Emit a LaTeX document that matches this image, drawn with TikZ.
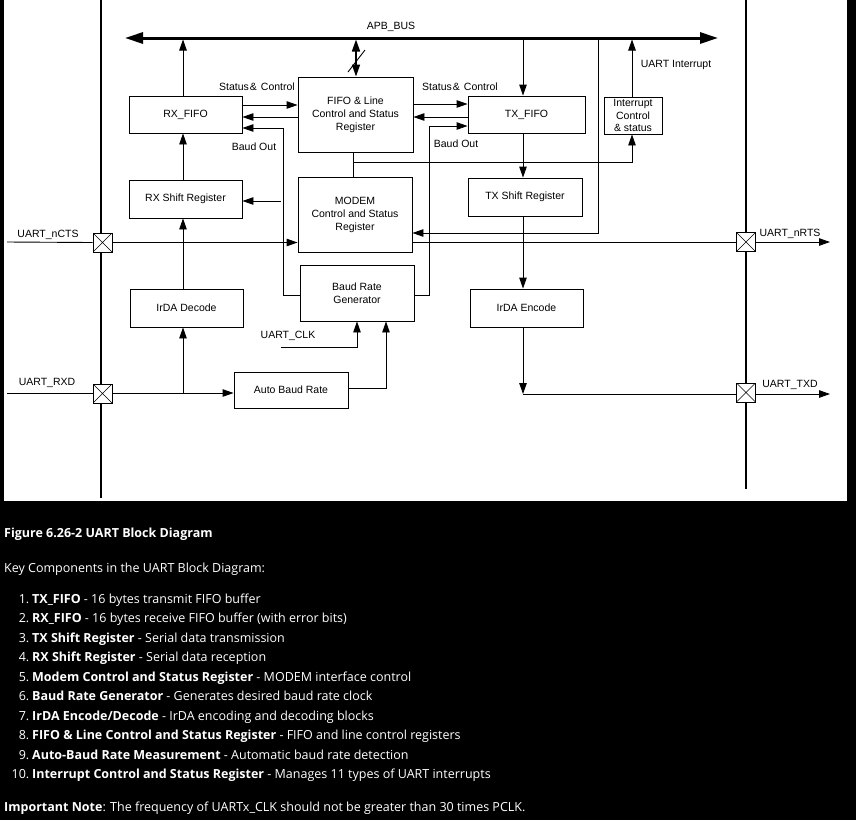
\documentclass[tikz,border=0pt]{standalone}
\usepackage{fontspec}
\setmainfont{Liberation Sans}
\newfontfamily\uifont{Open Sans}
\usetikzlibrary{arrows.meta,calc}
\begin{document}
\begin{tikzpicture}[x=1pt,y=-1pt,
  box/.style={draw,line width=0.9pt,inner sep=0pt,align=center,font=\fontsize{10.5}{13}\selectfont},
  pad/.style={draw,fill=white,line width=0.8pt,minimum size=19pt,inner sep=0pt,
    path picture={\draw[line width=0.5pt] (path picture bounding box.south west) -- (path picture bounding box.north east)
      (path picture bounding box.north west) -- (path picture bounding box.south east);}},
  wire/.style={line width=0.9pt},
  arr/.style={wire,-{Triangle[length=11pt,width=7.5pt]}},
  barr/.style={line width=1.6pt,{Triangle[length=12pt,width=8pt]}-{Triangle[length=12pt,width=8pt]}},
  bus/.style={line width=3pt,{Triangle[length=18pt,width=11pt]}-{Triangle[length=18pt,width=11pt]}},
  rail/.style={line width=2pt},
  lbl/.style={font=\fontsize{10.5}{12}\selectfont,inner sep=0pt},
  txt/.style={text=white,inner sep=0pt,anchor=base west,font=\uifont\fontsize{12.5}{15}\selectfont},
  num/.style={text=white,inner sep=0pt,anchor=base east,font=\uifont\fontsize{12.5}{15}\selectfont}
]
\useasboundingbox (0,0) rectangle (856,820);
\fill[black] (0,0) rectangle (856,820);
\fill[white] (4,0) rectangle (847,501);

% rails
\draw[rail] (101,0) -- (101,498);
\draw[rail] (746,0) -- (746,489);

% bus
\coordinate (busL) at (125,38);
\coordinate (busR) at (718,38);
\draw[bus] (busL) -- (busR);
\node[lbl] (apb) at (391,27) {APB\_BUS};
\coordinate (tapRX) at (183,38);
\coordinate (tapFIFO) at (356,38);
\coordinate (tapTX) at (523,38);
\coordinate (tapMD) at (598,38);
\coordinate (tapINT) at (632,38);

% boxes
\node[box,minimum width=113pt,minimum height=37pt] (rxfifo) at (185.5,114.5) {RX\_FIFO};
\node[box,minimum width=115pt,minimum height=75pt] (fifo) at (355.5,114.5) {FIFO \& Line\\Control and Status\\Register};
\node[box,minimum width=117pt,minimum height=37pt] (txfifo) at (526.5,114.5) {TX\_FIFO};
\node[box,minimum width=58pt,minimum height=37pt,font=\fontsize{10.5}{12.5}\selectfont] (intr) at (633,115.5) {Interrupt\\Control\\\& status};
\node[box,minimum width=113pt,minimum height=38pt] (rxshift) at (185.5,199) {RX Shift Register};
\node[box,minimum width=114pt,minimum height=75pt] (modem) at (355,214.5) {MODEM\\Control and Status\\Register};
\node[box,minimum width=114pt,minimum height=38pt] (txshift) at (525,197) {TX Shift Register};
\node[box,minimum width=114pt,minimum height=56pt] (brg) at (357,293) {Baud Rate\\Generator};
\node[box,minimum width=113pt,minimum height=38pt] (irdec) at (186.5,308) {IrDA Decode};
\node[box,minimum width=113pt,minimum height=38pt] (irenc) at (526.5,308) {IrDA Encode};
\node[box,minimum width=114pt,minimum height=36pt] (abr) at (291,390) {Auto Baud Rate};

% pads
\node[pad] (padcts) at (102.5,242.5) {};
\node[pad] (padrts) at (746,242) {};
\node[pad] (padrxd) at (102.5,393.5) {};
\node[pad] (padtxd) at (746,392.5) {};

% bus connections
\draw[arr,shorten >=1.5pt] (rxfifo.north -| tapRX) -- (tapRX);
\draw[barr,shorten <=1.5pt] (tapFIFO) -- (fifo.north -| tapFIFO);
\draw[wire] (348,72) -- (365,50);
\draw[arr,shorten <=1.5pt] (tapTX) -- (txfifo.north -| tapTX);
\draw[arr,shorten <=1.5pt] (tapMD) |- (modem.east |- 0,233);
\draw[arr,shorten >=1.5pt] (intr.north -| tapINT) -- (tapINT);
\node[lbl] (uint) at (676,65) {UART Interrupt};

% RX side
\draw[arr] (rxfifo.east |- 0,105) -- (fifo.west |- 0,105);
\draw[arr] (fifo.west |- 0,117) -- (rxfifo.east |- 0,117);
\node[lbl] (sc1) at (257,87) {Status\kern1pt\&\kern4pt Control};
\draw[arr] (brg.west |- 0,295) -| (283,128) -- (rxfifo.east |- 0,128);
\node[lbl] (bo1) at (254,147) {Baud Out};
\draw[arr] (281,201) -- (rxshift.east |- 0,201);
\draw[arr] (rxshift.north -| tapRX) -- (rxfifo.south -| tapRX);
\draw[arr] (irdec.north -| tapRX) -- (rxshift.south -| tapRX);

% TX side
\draw[arr] (fifo.east |- 0,104) -- (txfifo.west |- 0,104);
\draw[arr] (txfifo.west |- 0,117) -- (fifo.east |- 0,117);
\node[lbl] (sc2) at (460,87) {Status\kern1pt\&\kern4pt Control};
\draw[arr] (brg.east |- 0,295) -| (429,126) -- (txfifo.west |- 0,126);
\node[lbl] (bo2) at (456,144) {Baud Out};
\draw[wire] (fifo.south -| 353,0) -- (modem.north -| 353,0);
\draw[arr] (353,162) -| (intr.south -| tapINT);
\draw[arr] (txfifo.south -| tapTX) -- (txshift.north -| tapTX);
\draw[arr] (txshift.south -| tapTX) -- (irenc.north -| tapTX);
\coordinate (txcorner) at (523,394);
\draw[arr] (irenc.south -| tapTX) -- (txcorner);
\draw[wire] (txcorner) -- (padtxd.west |- txcorner);

% nCTS / nRTS
\draw[wire] (7,242) -- (padcts.west);
\draw[arr] (padcts.east) -- (modem.west |- padcts);
\node[lbl] (ncts) at (48,235) {UART\_nCTS};
\draw[wire] (modem.east |- padrts) -- (padrts.west);
\draw[arr] (padrts.east) -- (830,242);
\node[lbl] (nrts) at (790,234) {UART\_nRTS};

% RXD / TXD
\draw[wire] (7,393) -- (padrxd.west |- 0,393);
\draw[arr] (padrxd.east |- 0,393) -- (abr.west |- 0,393);
\draw[arr] (tapRX |- 0,393) -- (irdec.south -| tapRX);
\node[lbl] (rxd) at (47,383) {UART\_RXD};
\draw[arr] (padtxd.east |- txcorner) -- (830,394);
\node[lbl] (txd) at (790,385) {UART\_TXD};

% clocks
\draw[arr] (281,347) -| (brg.south -| 357,0);
\node[lbl] (clk) at (288,336) {UART\_CLK};
\draw[arr] (abr.east |- 0,388) -| (brg.south -| 386,0);

% text below
\node[txt,font=\uifont\bfseries\fontsize{12.5}{15}\selectfont] (cap) at (4,537) {Figure 6.26-2 UART Block Diagram};
\node[txt] (key) at (4,572) {Key Components in the UART Block Diagram:};
\node[num] (n1) at (29.5,603) {1.}; \node[txt] (t1) at (32,603) {\textbf{TX\_FIFO} - 16 bytes transmit FIFO buffer};
\node[num] (n2) at (29.5,622) {2.}; \node[txt] (t2) at (32,622) {\textbf{RX\_FIFO} - 16 bytes receive FIFO buffer (with error bits)};
\node[num] (n3) at (29.5,642) {3.}; \node[txt] (t3) at (32,642) {\textbf{TX Shift Register} - Serial data transmission};
\node[num] (n4) at (29.5,661) {4.}; \node[txt] (t4) at (32,661) {\textbf{RX Shift Register} - Serial data reception};
\node[num] (n5) at (29.5,681) {5.}; \node[txt] (t5) at (32,681) {\textbf{Modem Control and Status Register} - MODEM interface control};
\node[num] (n6) at (29.5,700) {6.}; \node[txt] (t6) at (32,700) {\textbf{Baud Rate Generator} - Generates desired baud rate clock};
\node[num] (n7) at (29.5,720) {7.}; \node[txt] (t7) at (32,720) {\textbf{IrDA Encode/Decode} - IrDA encoding and decoding blocks};
\node[num] (n8) at (29.5,739) {8.}; \node[txt] (t8) at (32,739) {\textbf{FIFO \& Line Control and Status Register} - FIFO and line control registers};
\node[num] (n9) at (29.5,759) {9.}; \node[txt] (t9) at (32,759) {\textbf{Auto-Baud Rate Measurement} - Automatic baud rate detection};
\node[num] (n10) at (29.5,778) {10.}; \node[txt] (t10) at (32,778) {\textbf{Interrupt Control and Status Register} - Manages 11 types of UART interrupts};
\node[txt] (note) at (4,811) {\textbf{Important Note}: The frequency of UARTx\_CLK should not be greater than 30 times PCLK.};
\end{tikzpicture}
\end{document}
